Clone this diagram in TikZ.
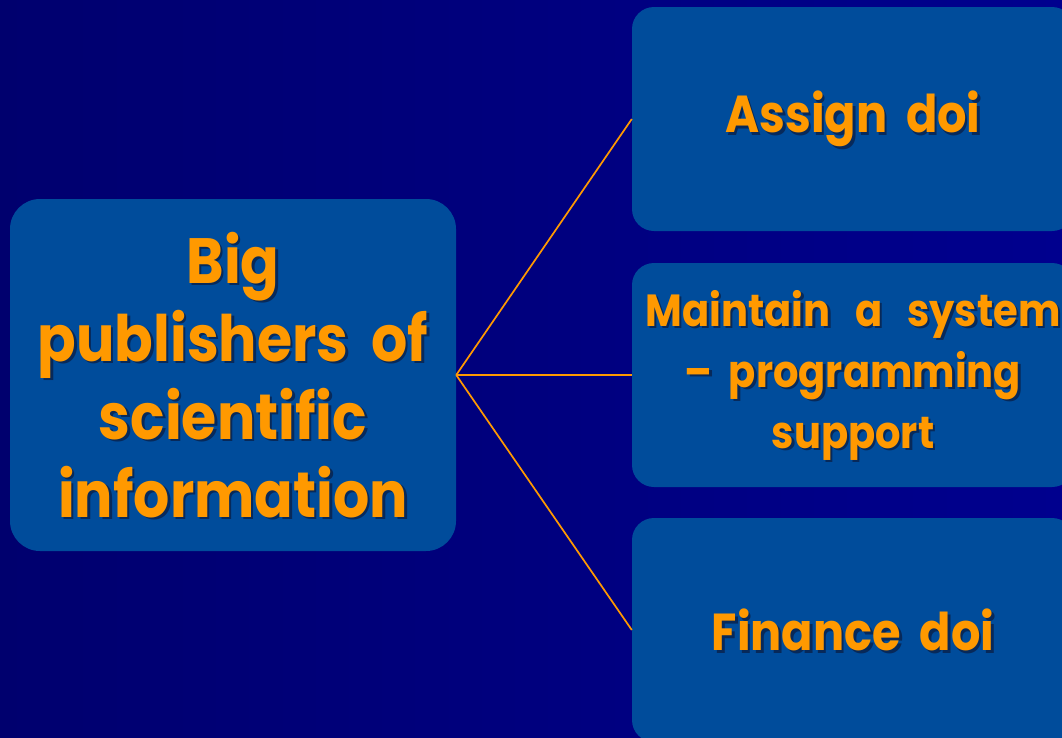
\documentclass[tikz,border=0pt]{standalone}
\usepackage{fontspec}
\setmainfont{Poppins}[FakeStretch=0.89, WordSpace=1.9]
\definecolor{bgL}{HTML}{00006E}
\definecolor{bgR}{HTML}{00008E}
\definecolor{boxblue}{HTML}{004C9B}
\definecolor{orangetxt}{HTML}{FF9900}
\definecolor{shadowc}{HTML}{0A1E45}
\newcommand\wsp{\hspace{0.55em}}
\tikzset{
  bigbox/.style={fill=boxblue, draw=none, rounded corners=30pt, minimum width=446pt, minimum height=352pt, inner sep=0pt},
  sidebox/.style={fill=boxblue, draw=none, rounded corners=22pt, minimum width=442pt, minimum height=224pt, inner sep=0pt},
  lbl/.style={text=orangetxt, align=center, inner sep=0pt, font=\bfseries},
  shad/.style={text=shadowc, opacity=0.75},
  conn/.style={draw=orangetxt, line width=1.7pt},
  bigfont/.style={font=\bfseries\fontsize{64}{78}\selectfont},
  midfont/.style={font=\bfseries\fontsize{52}{61}\selectfont},
  smallfont/.style={font=\bfseries\fontsize{45}{61}\selectfont}
}
\begin{document}
\begin{tikzpicture}[x=1pt,y=-1pt]
\useasboundingbox (0,0) rectangle (1062,737);
\clip (0,0) rectangle (1062,737);
\shade[left color=bgL, right color=bgR] (0,0) rectangle (1062,737);
% boxes
\node[bigbox] (big) at (233,375) {};
\node[sidebox] (b1) at (853,119) {};
\node[sidebox] (b2) at (853,375) {};
\node[sidebox] (b3) at (853,630) {};
% connectors
\draw[conn] (big.east) -- (b1.west);
\draw[conn] (big.east) -- (b2.west);
\draw[conn] (big.east) -- (b3.west);
% texts with shadows
\node[lbl, bigfont, shad] (bigts) at ([shift={(2.5,2.5)}]big.center) {Big\\publishers of\\scientific\\information};
\node[lbl, bigfont] (bigt) at (big.center) {Big\\publishers of\\scientific\\information};
\node[lbl, midfont, shad] (t1s) at ([shift={(2.5,2.5)}]b1.center) {Assign doi};
\node[lbl, midfont] (t1) at (b1.center) {Assign doi};
\node[lbl, smallfont, shad] (t2s) at ([shift={(2.5,2.5)}]b2.center) {Maintain\wsp a\wsp system\\– programming\\support};
\node[lbl, smallfont] (t2) at (b2.center) {Maintain\wsp a\wsp system\\– programming\\support};
\node[lbl, midfont, shad] (t3s) at ([shift={(2.5,2.5)}]b3.center) {Finance doi};
\node[lbl, midfont] (t3) at (b3.center) {Finance doi};
\end{tikzpicture}
\end{document}
